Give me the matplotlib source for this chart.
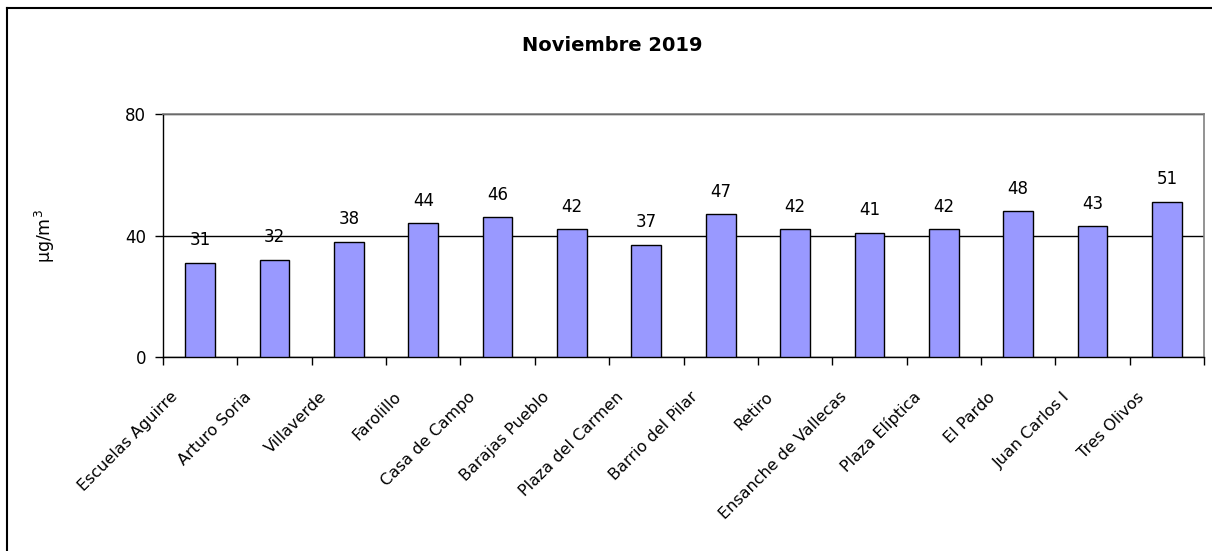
import matplotlib.pyplot as plt
from matplotlib.lines import Line2D
from matplotlib.transforms import ScaledTranslation

# Estaciones y valores medios (Noviembre 2019)
estaciones = [
    'Escuelas Aguirre', 'Arturo Soria', 'Villaverde', 'Farolillo',
    'Casa de Campo', 'Barajas Pueblo', 'Plaza del Carmen', 'Barrio del Pilar',
    'Retiro', 'Ensanche de Vallecas', 'Plaza Elíptica', 'El Pardo',
    'Juan Carlos I', 'Tres Olivos'
]
valores = [31, 32, 38, 44, 46, 42, 37, 47, 42, 41, 42, 48, 43, 51]
yticks = [0, 40, 80]

fig = plt.figure(figsize=(12.12, 5.51), dpi=100)
ax = fig.add_axes([0.1345, 0.352, 0.8589, 0.441])

x = range(len(estaciones))
ax.bar(x, valores, width=0.4, color='#9999FF', edgecolor='black', linewidth=1.0, zorder=3)
for xi, v in zip(x, valores):
    ax.text(xi, v + 4.5, str(v), ha='center', va='bottom', fontsize=12)

ax.set_xlim(-0.5, len(estaciones) - 0.5)
ax.set_ylim(0, 80)
ax.set_yticks(yticks)
ax.tick_params(axis='y', labelsize=12, length=6, width=1, direction='out', pad=6)
ax.yaxis.grid(True, color='black', linewidth=1, zorder=0)

# ticks between categories, labels at centres
ax.set_xticks([i - 0.5 for i in range(len(estaciones) + 1)])
ax.set_xticklabels([])
ax.set_xticks(list(x), minor=True)
ax.set_xticklabels(estaciones, minor=True, rotation=45, ha='right', va='center',
                   rotation_mode='anchor', fontsize=11.5)
ax.tick_params(axis='x', which='major', length=6, width=1, direction='out')
ax.tick_params(axis='x', which='minor', length=0, pad=27)
shift = ScaledTranslation(-0.25, 0, fig.dpi_scale_trans)
for lbl in ax.get_xticklabels(minor=True):
    lbl.set_transform(lbl.get_transform() + shift)

for s in ['top', 'right']:
    ax.spines[s].set_color('#808080')
    ax.spines[s].set_linewidth(1.2)
ax.spines['left'].set_linewidth(1)
ax.spines['bottom'].set_linewidth(1)

fig.text(45 / 1212, 1 - 236 / 551, 'µg/m$^3$', rotation=90, ha='center', va='center', fontsize=12.5)
fig.text(0.505, 0.918, 'Noviembre 2019', ha='center', va='center', fontsize=14, fontweight='bold')

# marco del gráfico (recortado: solo arriba e izquierda)
fig.add_artist(Line2D([0.0058, 0.0058], [0, 0.986], color='black', linewidth=1.5, transform=fig.transFigure))
fig.add_artist(Line2D([0.0058, 1.0], [0.986, 0.986], color='black', linewidth=1.5, transform=fig.transFigure))

fig.savefig('out.png', dpi=100)
